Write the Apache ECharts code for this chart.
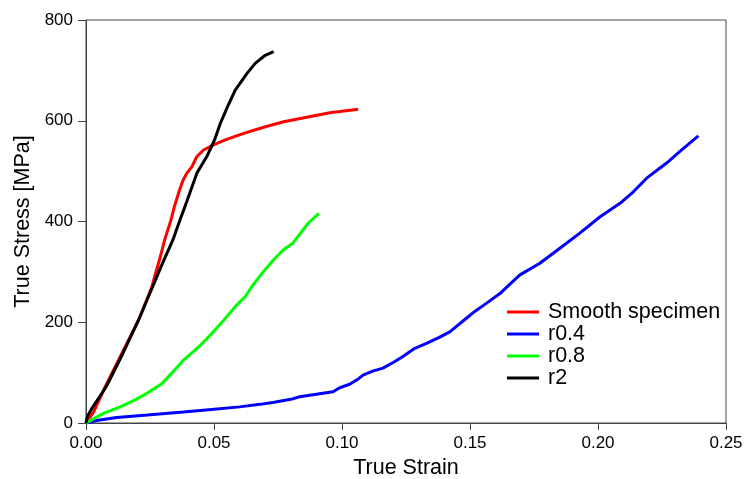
<!DOCTYPE html>
<html>
<head>
<meta charset="utf-8">
<script src="https://cdn.jsdelivr.net/npm/echarts@6/dist/echarts.min.js"></script>
<style>
html,body{margin:0;padding:0;background:#fff;}
#chart{width:744px;height:479px;}
</style>
</head>
<body>
<div id="chart"></div>
<script>
// ---- data (strain, stress [MPa]) ----
const seriesNames = ['Smooth specimen', 'r0.4', 'r0.8', 'r2'];
const xTicks = [0, 0.05, 0.10, 0.15, 0.20, 0.25];
const yTicks = [0, 200, 400, 600, 800];

const smoothData = [[0,0],[0.003,22],[0.0075,72],[0.014,138],[0.0205,204],[0.0257,270],[0.0294,337],[0.0307,363],[0.0332,403],[0.0345,429],[0.0365,462],[0.0379,482],[0.0394,496],[0.0414,509],[0.0433,529],[0.0459,542],[0.0498,552],[0.0544,562],[0.0616,575],[0.0694,587],[0.0772,598],[0.0822,603],[0.0952,616],[0.1063,623]];

const r04Data = [[0,0],[0.004,5],[0.012,11],[0.024,16],[0.038,22],[0.049,27],[0.06,32],[0.068,37],[0.0735,41],[0.08,47],[0.0835,52],[0.09,57],[0.0965,62],[0.0991,70],[0.103,77],[0.1065,88],[0.1082,95],[0.112,103],[0.116,109],[0.12,120],[0.1238,132],[0.128,147],[0.133,158],[0.138,170],[0.1421,181],[0.1486,208],[0.152,222],[0.1565,238],[0.1617,257],[0.1655,275],[0.1695,294],[0.1773,317],[0.1851,347],[0.1929,377],[0.2007,409],[0.2086,436],[0.2138,459],[0.219,486],[0.2268,516],[0.232,539],[0.2392,570]];

const r08Data = [[0,0],[0.0068,19],[0.0134,32],[0.0192,46],[0.0238,59],[0.0296,78],[0.0335,99],[0.0381,125],[0.044,151],[0.0492,178],[0.0538,204],[0.0583,231],[0.0622,251],[0.0648,271],[0.0687,297],[0.0733,324],[0.0769,343],[0.0808,357],[0.0867,396],[0.091,416]];

const r2Data = [[0,0],[0.0006,14],[0.0023,29],[0.0079,72],[0.0144,138],[0.0205,204],[0.026,270],[0.0297,315],[0.0339,363],[0.0367,403],[0.0386,429],[0.0433,496],[0.0472,529],[0.0502,562],[0.0525,595],[0.0553,628],[0.0583,661],[0.0629,694],[0.0661,714],[0.07,730],[0.0733,737]];

const colors = ['#ff0000', '#0000ff', '#00ff00', '#000000'];
const allData = [smoothData, r04Data, r08Data, r2Data];

const FONT = '"Liberation Sans", Arial, Helvetica, sans-serif';
const chart = echarts.init(document.getElementById('chart'));
chart.setOption({
  animation: false,
  backgroundColor: '#fff',
  textStyle: { fontFamily: FONT },
  grid: { left: 86, right: 18, top: 20, bottom: 56, containLabel: false, outerBoundsMode: 'none', show: true, borderColor: '#444', borderWidth: 1, backgroundColor: 'transparent' },
  legend: {
    data: seriesNames,
    orient: 'vertical',
    left: 507,
    top: 301,
    padding: 0,
    itemWidth: 32,
    itemHeight: 3,
    itemGap: 0,
    icon: 'rect',
    textStyle: { fontFamily: FONT, fontSize: 21.5, color: '#000', lineHeight: 22, padding: [0, 0, 0, 4] }
  },
  xAxis: {
    type: 'value',
    min: xTicks[0], max: xTicks[xTicks.length - 1], interval: 0.05,
    name: 'True Strain', nameLocation: 'middle', nameGap: 32,
    nameTextStyle: { fontFamily: FONT, fontSize: 21.5, color: '#000' },
    axisLine: { show: true, lineStyle: { color: '#444', width: 1 } },
    axisTick: { show: true, inside: false, length: 7, lineStyle: { color: '#444' } },
    axisLabel: { fontFamily: FONT, fontSize: 17, color: '#000', margin: 12, formatter: v => v.toFixed(2) },
    splitLine: { show: false }
  },
  yAxis: {
    type: 'value',
    min: yTicks[0], max: yTicks[yTicks.length - 1], interval: 200,
    name: 'True Stress [MPa]', nameLocation: 'middle', nameGap: 48,
    nameTextStyle: { fontFamily: FONT, fontSize: 21.5, color: '#000' },
    axisLine: { show: true, lineStyle: { color: '#444', width: 1 } },
    axisTick: { show: true, inside: false, length: 8, lineStyle: { color: '#444' } },
    axisLabel: { fontFamily: FONT, fontSize: 17, color: '#000', margin: 13 },
    splitLine: { show: false }
  },
  series: seriesNames.map((n, i) => ({
    name: n,
    type: 'line',
    data: allData[i],
    showSymbol: false,
    symbol: 'none',
    smooth: false,
    color: colors[i],
    lineStyle: { color: colors[i], width: 3 },
    z: 2 + i
  }))
});
</script>
</body>
</html>
